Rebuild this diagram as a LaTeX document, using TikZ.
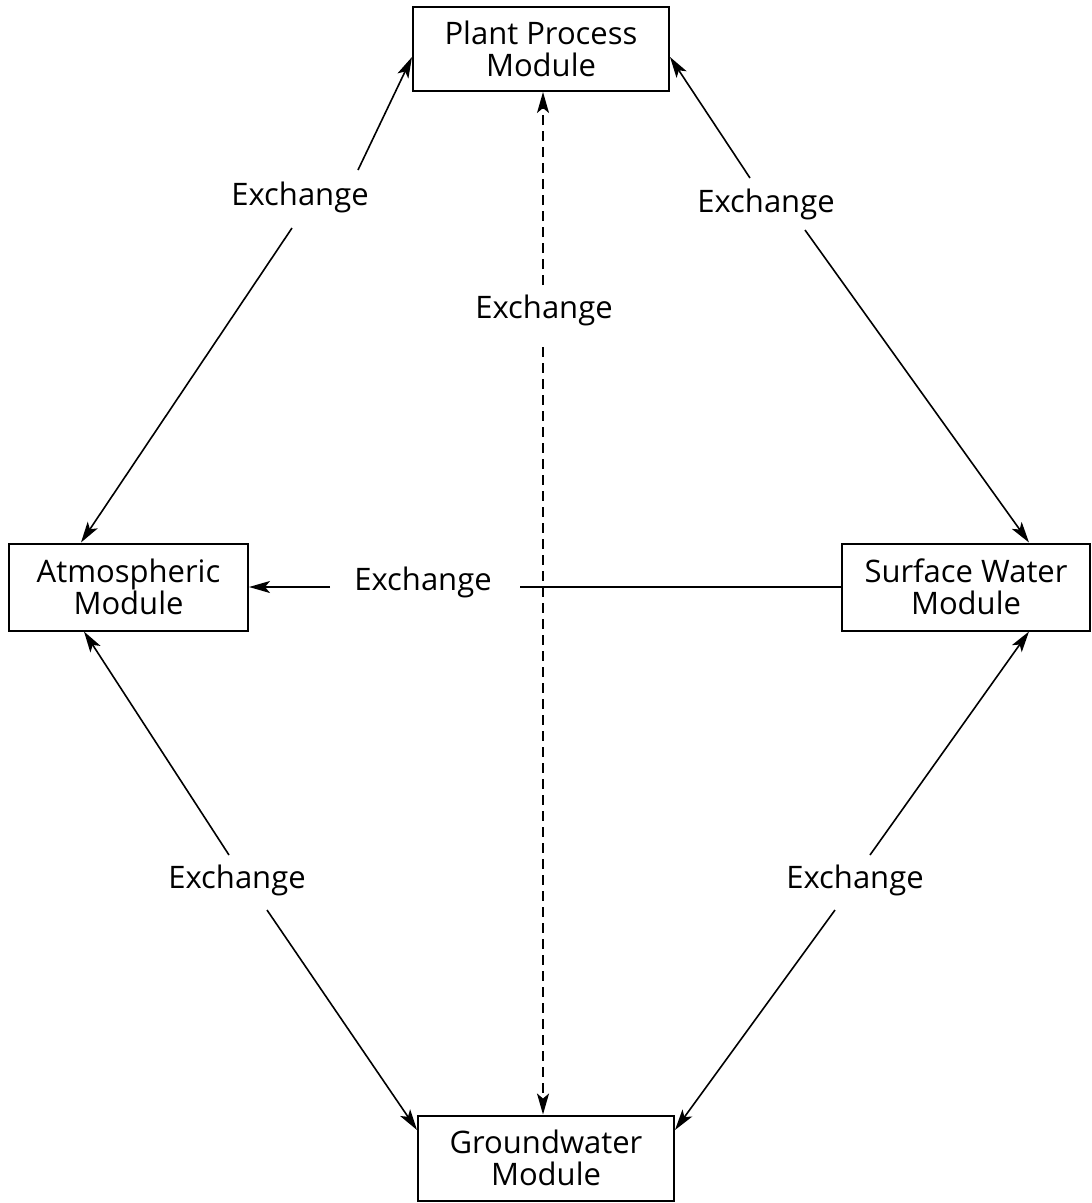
\documentclass[tikz,border=0pt]{standalone}
\usepackage{fontspec}
\setmainfont{Open Sans}
\usetikzlibrary{arrows.meta,calc}
\begin{document}
\begin{tikzpicture}[x=1pt,y=-1pt,
  box/.style={draw,line width=2pt,inner sep=0pt,align=center,font=\fontsize{31}{32}\selectfont},
  lbl/.style={inner sep=0pt,font=\fontsize{31}{32}\selectfont},
  conn/.style={line width=1.6pt,-{Stealth[length=21pt,width=12pt,inset=5pt]}},
  plainline/.style={line width=1.6pt},
  dconn/.style={conn,dash pattern=on 10pt off 6pt}]
\useasboundingbox (0,0) rectangle (1092,1203);
% modules
\node[box,minimum width=256pt,minimum height=84pt] (plant) at (541,49) {Plant Process\\Module};
\node[box,minimum width=239pt,minimum height=87pt] (atm) at (128.5,587) {Atmospheric\\Module};
\node[box,minimum width=248pt,minimum height=87pt] (sw) at (966,587) {Surface Water\\Module};
\node[box,minimum width=256pt,minimum height=85pt] (gw) at (546,1158) {Groundwater\\Module};
% labels
\node[lbl] (l1) at (300,197) {Exchange};
\node[lbl] (l2) at (766,204) {Exchange};
\node[lbl] (l3) at (544,310) {Exchange};
\node[lbl] (l4) at (423,582) {Exchange};
\node[lbl] (l5) at (237,880) {Exchange};
\node[lbl] (l6) at (855,880) {Exchange};
% free ends next to labels
\coordinate (a1) at (292,228); \coordinate (a2) at (358,170);
\coordinate (b1) at (750,178); \coordinate (b2) at (805,230);
\coordinate (c1) at (543,285); \coordinate (c2) at (543,347);
\coordinate (d1) at (330,587); \coordinate (d2) at (520,587);
\coordinate (e1) at (229,855); \coordinate (e2) at (267,910);
\coordinate (f1) at (870,855); \coordinate (f2) at (835,910);
% connectors
\draw[conn] (a1) -- ($(atm.north west)+(73,0)$);
\draw[conn] (a2) -- ($(plant.west)+(0,8)$);
\draw[conn] (b1) -- ($(plant.east)+(0,8)$);
\draw[conn] (b2) -- ($(sw.north west)+(188,0)$);
\draw[dconn] (c1) -- (plant.south -| c1);
\draw[dconn] (c2) -- (gw.north -| c2);
\draw[conn] (d1) -- (atm.east |- d1);
\draw[plainline] (d2) -- (sw.west |- d2);
\draw[conn] (e1) -- ($(atm.south west)+(76,0)$);
\draw[conn] (e2) -- ($(gw.west)+(0,-28)$);
\draw[conn] (f1) -- ($(sw.south west)+(188,0)$);
\draw[conn] (f2) -- ($(gw.east)+(0,-28)$);
\end{tikzpicture}
\end{document}
